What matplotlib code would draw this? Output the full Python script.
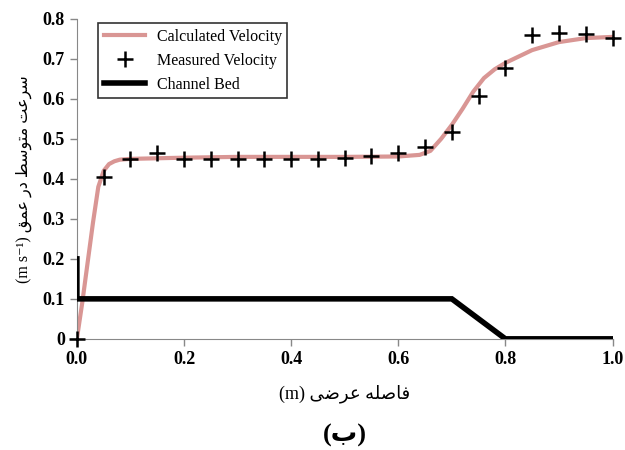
import matplotlib.pyplot as plt

# measured velocity points
x_meas = [0.0, 0.05, 0.10, 0.15, 0.20, 0.25, 0.30, 0.35, 0.40, 0.45, 0.50,
          0.55, 0.60, 0.65, 0.70, 0.75, 0.80, 0.85, 0.90, 0.95, 1.00]
v_meas = [0.0, 0.405, 0.45, 0.465, 0.45, 0.45, 0.45, 0.45, 0.45, 0.45, 0.452,
          0.457, 0.465, 0.48, 0.518, 0.607, 0.678, 0.76, 0.765, 0.762, 0.753]

# calculated velocity curve
x_calc = [0.0, 0.01, 0.02, 0.03, 0.04, 0.05, 0.06, 0.07, 0.08, 0.10, 0.20, 0.30, 0.40,
          0.50, 0.60, 0.64, 0.66, 0.68, 0.70, 0.72, 0.74, 0.76, 0.78, 0.80,
          0.85, 0.90, 0.95, 1.00]
v_calc = [0.0, 0.09, 0.19, 0.29, 0.38, 0.42, 0.437, 0.444, 0.448, 0.45, 0.453, 0.455, 0.455,
          0.455, 0.456, 0.46, 0.47, 0.50, 0.535, 0.575, 0.618, 0.652, 0.674, 0.69,
          0.722, 0.742, 0.752, 0.755]

# channel bed profile
x_bed = [0.0, 0.0, 0.7, 0.8, 1.0]
y_bed = [0.2, 0.1, 0.1, 0.0, 0.0]

x_ticks = [0.0, 0.2, 0.4, 0.6, 0.8, 1.0]
y_ticks = [0, 0.1, 0.2, 0.3, 0.4, 0.5, 0.6, 0.7, 0.8]
y_ticklabels = ["0", "0.1", "0.2", "0.3", "0.4", "0.5", "0.6", "0.7", "0.8"]

fonts = ["Liberation Serif", "DejaVu Sans"]
plt.rcParams["font.family"] = fonts

# Persian labels: presentation forms, reversed to visual (left-to-right) order
seq_y = "\ufeb3\ufeae\ufecb\ufe96 \ufee3\ufe98\ufeee\ufeb3\ufec2 \ufea9\ufead \ufecb\ufee4\ufed6"
ylabel = "(m s\u207b\u00b9) " + seq_y[::-1]
seq_x = "\ufed3\ufe8e\ufebb\ufee0\ufeea \ufecb\ufeae\ufebf\ufef0"
xlabel = "(m) " + seq_x[::-1]
subtitle = "(\ufe8f)"

fig, ax = plt.subplots(figsize=(6.25, 4.5), dpi=100)
fig.subplots_adjust(left=0.123, right=0.98, top=0.958, bottom=0.247)

ax.plot(x_calc, v_calc, color="#D99694", lw=3, label="Calculated Velocity", zorder=2)
ax.plot(x_meas, v_meas, ls="none", marker="+", ms=12, mew=1.8, color="black",
        label="Measured Velocity", clip_on=False, zorder=4)
ax.plot(x_bed, y_bed, color="black", lw=4, label="Channel Bed", zorder=3,
        solid_joinstyle="miter")

ax.set_xlim(0, 1.0)
ax.set_ylim(0, 0.8)
ax.set_xticks(x_ticks)
ax.set_xticklabels([f"{t:.1f}" for t in x_ticks])
ax.set_yticks(y_ticks)
ax.set_yticklabels(y_ticklabels)
for lab in ax.get_xticklabels() + ax.get_yticklabels():
    lab.set_fontweight("bold")
    lab.set_fontsize(13)
ax.tick_params(direction="out", length=5, color="#888888", width=1)

ax.spines[["top", "right"]].set_visible(False)
ax.spines[["left", "bottom"]].set_color("#888888")

ax.set_ylabel(ylabel, fontsize=11.5, labelpad=8)
ax.set_xlabel(xlabel, fontsize=13, labelpad=12)

leg = ax.legend(loc="upper left", bbox_to_anchor=(0.025, 1.012), fontsize=11.5,
                frameon=True, fancybox=False, edgecolor="black",
                handlelength=2.6, borderpad=0.35, labelspacing=0.5,
                handletextpad=0.7)
leg.get_frame().set_linewidth(1.2)

fig.text(0.552, 0.033, subtitle, ha="center", va="center", fontsize=19, fontweight="bold")

plt.savefig("out.png", dpi=100)
